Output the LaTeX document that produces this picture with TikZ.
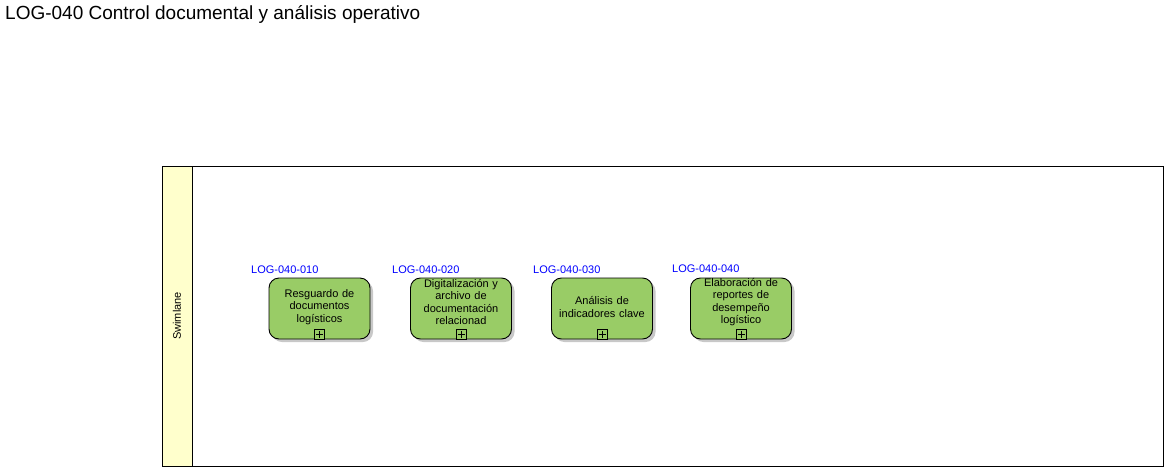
\documentclass[tikz,border=0pt]{standalone}
\usepackage{fontspec}
\setmainfont{Liberation Sans}
\definecolor{taskgreen}{RGB}{153,204,102}
\definecolor{lanehead}{RGB}{255,255,204}
\definecolor{idblue}{RGB}{0,0,255}
\definecolor{shadowgray}{RGB}{200,200,200}
\begin{document}
\begin{tikzpicture}[x=1pt,y=-1pt,
  task/.style={draw=black, line width=0.9pt, fill=taskgreen, rounded corners=10pt,
    minimum width=101pt, minimum height=61pt, inner sep=0pt},
  tasktext/.style={align=center, inner sep=0pt, text width=97pt,
    font=\fontsize{11}{12.4}\selectfont},
  shadowbox/.style={fill=shadowgray, rounded corners=10pt, draw=none,
    minimum width=101pt, minimum height=61pt, inner sep=0pt},
  taskid/.style={text=idblue, font=\fontsize{11}{12}\selectfont, inner sep=0pt, anchor=west},
  plusbox/.style={draw=black, line width=0.7pt, minimum size=10pt, inner sep=0pt, fill=taskgreen},
]
\useasboundingbox (0,0) rectangle (1168,472);
\fill[white] (0,0) rectangle (1168,472);

% title
\node[anchor=west, inner sep=0pt, font=\fontsize{19}{22}\selectfont] (title) at (5,14) {LOG-040 Control documental y análisis operativo};

% swimlane
\draw[line width=0.8pt, fill=white] (162,166) rectangle (1163,466);
\draw[line width=0.8pt, fill=lanehead] (162,166) rectangle (192,466);
\node[rotate=90, inner sep=0pt, font=\fontsize{11}{12}\selectfont] (lane) at (177,316) {Swimlane};

% shadows
\foreach \cx in {319.5,461,602,741} {
  \node[shadowbox] at (\cx+3,311.5) {};
}

% tasks
\node[task] (t1) at (319.5,308.5) {};
\node[task] (t2) at (461,308.5) {};
\node[task] (t3) at (602,308.5) {};
\node[task] (t4) at (741,308.5) {};

\node[tasktext] (t1x) at ([yshift=1.5pt]t1.center) {Resguardo de\\documentos\\logísticos};
\node[tasktext] (t2x) at ([yshift=6.5pt]t2.center) {Digitalización y\\archivo de\\documentación\\relacionad};
\node[tasktext] (t3x) at ([yshift=1.5pt]t3.center) {Análisis de\\indicadores clave};
\node[tasktext] (t4x) at ([yshift=6.5pt]t4.center) {Elaboración de\\reportes de\\desempeño\\logístico};

% plus markers
\foreach \t in {t1,t2,t3,t4} {
  \node[plusbox, anchor=south] (\t p) at ([yshift=-0.5pt]\t.south) {};
  \draw[line width=0.7pt] ([xshift=-3.5pt]\t p.center) -- ([xshift=3.5pt]\t p.center);
  \draw[line width=0.7pt] ([yshift=-3.5pt]\t p.center) -- ([yshift=3.5pt]\t p.center);
}

% ids
\node[taskid] (id1) at (251,270) {LOG-040-010};
\node[taskid] (id2) at (392,270) {LOG-040-020};
\node[taskid] (id3) at (533,270) {LOG-040-030};
\node[taskid] (id4) at (672,269) {LOG-040-040};
\end{tikzpicture}
\end{document}
